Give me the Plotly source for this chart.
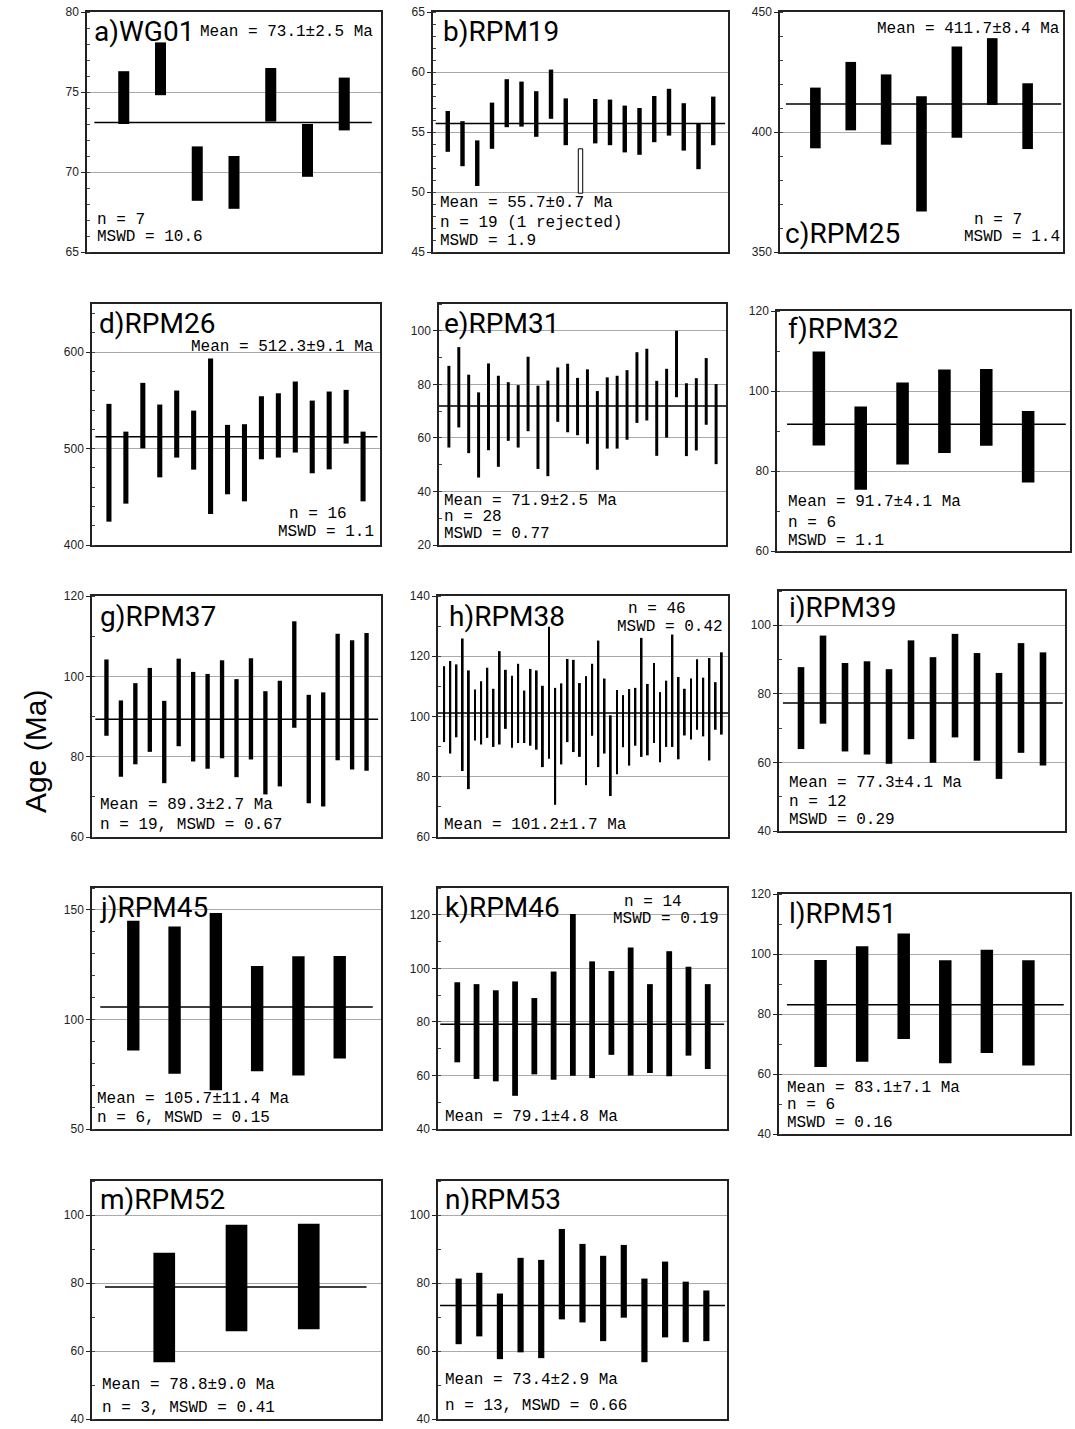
import plotly.graph_objects as go

W, H = 1075, 1429

# ---------------- data (Ma) ----------------
labels = ["a)WG01", "b)RPM19", "c)RPM25", "d)RPM26", "e)RPM31", "f)RPM32", "g)RPM37",
          "h)RPM38", "i)RPM39", "j)RPM45", "k)RPM46", "l)RPM51", "m)RPM52", "n)RPM53"]
means = [73.1, 55.7, 411.7, 512.3, 71.9, 91.7, 89.3, 101.2, 77.3, 105.7, 79.1, 83.1, 78.8, 73.4]

a_high = [76.3, 78.1, 71.6, 71.0, 76.5, 73.0, 75.9]
a_low = [73.0, 74.8, 68.2, 67.7, 73.15, 69.7, 72.6]

b_high = [56.75, 55.9, 54.3, 57.45, 59.4, 59.2, 58.4, 60.2, 57.8, 53.6, 57.75, 57.7, 57.2, 57.0,
          58.0, 58.6, 57.4, 55.7, 57.95]
b_low = [53.35, 52.15, 50.5, 53.6, 55.4, 55.45, 54.6, 56.1, 53.9, 49.9, 54.05, 53.9, 53.3, 53.1,
         54.15, 54.7, 53.45, 51.9, 53.9]
b_rejected = [10]  # 1-based analysis number rejected

c_high = [418.5, 429.2, 424.0, 414.9, 435.6, 439.1, 420.3]
c_low = [393.2, 400.7, 394.7, 366.9, 397.6, 411.3, 392.9]

d_high = [546.4, 517.6, 568.2, 545.7, 560.2, 539.4, 593.4, 524.6, 525.3, 554.3, 557.4, 569.6,
          549.8, 559.2, 560.9, 517.6]
d_low = [424.2, 442.9, 500.3, 470.2, 490.7, 478.2, 432.2, 452.6, 445.3, 488.9, 490.7, 495.9,
         474.4, 478.5, 505.2, 445.3]

e_high = [86.9, 93.9, 83.6, 77.0, 87.8, 83.2, 80.8, 79.7, 90.3, 79.5, 81.4, 86.3, 87.7, 82.4,
          85.6, 77.5, 82.6, 83.2, 85.3, 92.0, 93.3, 81.3, 85.8, 100.0, 80.4, 82.3, 89.8, 80.1]
e_low = [56.4, 63.9, 54.3, 45.2, 55.4, 49.2, 58.9, 56.4, 62.5, 48.4, 45.7, 66.0, 62.1, 61.0,
         57.8, 48.1, 56.0, 56.0, 59.3, 65.6, 66.5, 53.3, 60.1, 75.2, 53.2, 55.3, 64.9, 50.2]

f_high = [109.9, 96.1, 102.1, 105.4, 105.5, 95.0]
f_low = [86.4, 75.3, 81.6, 84.5, 86.3, 77.1]

g_high = [104.2, 94.0, 98.3, 102.1, 93.9, 104.4, 101.1, 100.6, 104.0, 99.3, 104.5, 96.3, 98.9,
          113.7, 95.4, 96.0, 110.6, 109.0, 110.8]
g_low = [85.2, 75.0, 78.1, 81.2, 73.4, 82.6, 78.8, 77.0, 79.6, 74.9, 79.3, 70.6, 72.6, 87.2,
         68.4, 67.6, 79.1, 76.8, 76.5]

h_high = [116.7, 118.4, 117.3, 125.9, 115.3, 109.0, 111.7, 116.2, 109.2, 121.7, 115.5, 113.5,
          117.5, 108.6, 115.8, 115.3, 110.2, 129.8, 109.5, 111.0, 119.1, 118.8, 111.1, 113.4,
          117.5, 125.2, 112.6, 100.4, 108.8, 107.1, 109.1, 109.5, 126.1, 110.8, 117.8, 108.1,
          111.9, 127.2, 113.1, 109.2, 112.6, 119.0, 112.9, 119.4, 111.4, 121.3]
h_low = [91.5, 87.7, 93.1, 81.9, 75.9, 92.0, 90.7, 92.9, 89.9, 90.7, 95.9, 89.6, 91.2, 91.2,
         90.3, 89.0, 83.2, 86.0, 70.7, 84.1, 91.5, 88.2, 86.6, 77.2, 93.6, 83.2, 87.7, 73.6,
         80.8, 89.8, 83.7, 90.3, 86.6, 87.1, 91.2, 84.8, 89.9, 89.9, 85.8, 93.7, 92.4, 95.6,
         93.4, 85.4, 95.6, 94.0]

i_high = [87.8, 97.0, 89.0, 89.5, 87.2, 95.6, 90.7, 97.5, 91.9, 86.1, 94.8, 92.1]
i_low = [63.9, 71.3, 63.2, 62.3, 59.6, 66.8, 59.9, 67.3, 60.5, 55.2, 62.8, 59.1]

j_high = [145.0, 142.4, 148.6, 124.4, 128.8, 129.0]
j_low = [85.8, 75.2, 67.7, 76.4, 74.4, 82.2]

k_high = [94.8, 94.1, 91.8, 95.1, 88.9, 98.8, 120.3, 102.6, 99.0, 107.8, 94.1, 106.4, 100.6, 94.1]
k_low = [64.9, 58.7, 57.8, 52.4, 60.4, 58.4, 59.9, 59.0, 67.7, 60.0, 60.9, 59.7, 67.4, 62.4]

l_high = [98.0, 102.6, 106.8, 97.9, 101.4, 97.9]
l_low = [62.3, 64.1, 71.7, 63.6, 67.0, 62.8]

m_high = [88.9, 97.1, 97.4]
m_low = [56.7, 65.8, 66.4]

n_high = [81.3, 83.0, 76.9, 87.4, 86.8, 95.9, 91.5, 88.0, 91.2, 81.3, 86.3, 80.4, 77.8]
n_low = [62.0, 64.3, 57.6, 59.6, 57.9, 69.3, 68.4, 62.9, 69.8, 56.7, 64.0, 62.6, 62.9]

highs = [a_high, b_high, c_high, d_high, e_high, f_high, g_high, h_high, i_high, j_high,
         k_high, l_high, m_high, n_high]
lows = [a_low, b_low, c_low, d_low, e_low, f_low, g_low, h_low, i_low, j_low, k_low, l_low,
        m_low, n_low]

# axis ranges / ticks
y_ranges = [(65, 80), (45, 65), (350, 450), (400, 650), (20, 110), (60, 120), (60, 120),
            (60, 140), (40, 110), (50, 160), (40, 130), (40, 120), (40, 110), (40, 110)]
major_dt = [5, 5, 50, 100, 20, 20, 20, 20, 20, 50, 20, 20, 20, 20]
minor_dt = [1, 1, 10, 20, 10, 10, 10, 10, 10, 10, 10, 10, 10, 10]

# statistic text
stat_texts = [
    ["Mean = 73.1±2.5 Ma", "n = 7", "MSWD = 10.6"],
    ["Mean = 55.7±0.7 Ma", "n = 19 (1 rejected)", "MSWD = 1.9"],
    ["Mean = 411.7±8.4 Ma", "n = 7", "MSWD = 1.4"],
    ["Mean = 512.3±9.1 Ma", "n = 16", "MSWD = 1.1"],
    ["Mean = 71.9±2.5 Ma", "n = 28", "MSWD = 0.77"],
    ["Mean = 91.7±4.1 Ma", "n = 6", "MSWD = 1.1"],
    ["Mean = 89.3±2.7 Ma", "n = 19, MSWD = 0.67"],
    ["n = 46", "MSWD = 0.42", "Mean = 101.2±1.7 Ma"],
    ["Mean = 77.3±4.1 Ma", "n = 12", "MSWD = 0.29"],
    ["Mean = 105.7±11.4 Ma", "n = 6, MSWD = 0.15"],
    ["n = 14", "MSWD = 0.19", "Mean = 79.1±4.8 Ma"],
    ["Mean = 83.1±7.1 Ma", "n = 6", "MSWD = 0.16"],
    ["Mean = 78.8±9.0 Ma", "n = 3, MSWD = 0.41"],
    ["Mean = 73.4±2.9 Ma", "n = 13, MSWD = 0.66"],
]

# ---------------- layout geometry (pixels) ----------------
boxes = [  # x0, x1, ytop, ybottom
    (87, 381, 12, 252), (433, 728, 12, 252), (780, 1063, 12, 252),
    (92, 380, 304, 545), (439, 726, 304, 545), (777, 1070, 311, 551),
    (92, 381, 596, 837), (438, 728, 596, 837), (779, 1065, 591, 831),
    (92, 381, 888, 1129), (438, 727, 888, 1129), (779, 1070, 894, 1134),
    (92, 381, 1181, 1419), (438, 727, 1181, 1419),
]
# label position (x, y)
label_pos = [(92, 31), (441, 32), (783, 233), (97, 323), (442, 323), (786, 328), (98, 616),
             (447, 616), (787, 608), (98, 907), (443, 907), (787, 913), (98, 1199), (443, 1199)]
# stat text positions: (x, y, anchor) per line
stat_pos = [
    [(375, 32, "right"), (95, 220, "left"), (95, 237, "left")],
    [(438, 203, "left"), (438, 223, "left"), (438, 241, "left")],
    [(1062, 29, "right"), (972, 220, "left"), (1062, 237, "right")],
    [(376, 347, "right"), (287, 514, "left"), (376, 532, "right")],
    [(442, 501, "left"), (442, 517, "left"), (442, 534, "left")],
    [(786, 502, "left"), (786, 523, "left"), (786, 541, "left")],
    [(98, 805, "left"), (98, 825, "left")],
    [(626, 609, "left"), (725, 627, "right"), (442, 825, "left")],
    [(787, 783, "left"), (787, 802, "left"), (787, 820, "left")],
    [(95, 1099, "left"), (95, 1118, "left")],
    [(622, 902, "left"), (721, 919, "right"), (443, 1117, "left")],
    [(785, 1088, "left"), (785, 1105, "left"), (785, 1123, "left")],
    [(100, 1385, "left"), (100, 1408, "left")],
    [(443, 1380, "left"), (443, 1406, "left")],
]
line_margin = [(0.2, 0.25), (0.18, 0.2), (0.17, 0.05), (0.2, 0.15), (0.0, 0.0), (0.24, 0.1),
               (0.23, 0.2), (0.0, 0.0), (0.18, 0.1), (0.2, 0.2), (0.12, 0.15), (0.19, 0.15),
               (0.18, 0.2), (0.1, 0.1)]

LABEL_FONT = dict(family="Roboto, Liberation Sans, sans-serif", size=28, color="#000")
STAT_FONT = dict(family="Liberation Mono, DejaVu Sans Mono, monospace", size=16, color="#000")
TICK_FONT = dict(family="Liberation Sans, Arial, sans-serif", size=12, color="#222")

fig = go.Figure()
layout = dict(width=W, height=H, margin=dict(l=0, r=0, t=0, b=0, autoexpand=False),
              paper_bgcolor="white", plot_bgcolor="white", showlegend=False,
              barmode="overlay", annotations=[])


def px(x, y):
    return x / W, 1 - y / H


for i in range(14):
    sfx = "" if i == 0 else str(i + 1)
    xa, ya = "x" + sfx, "y" + sfx
    n = len(highs[i])
    xmax = n + 1
    pos = list(range(1, n + 1))
    rej = b_rejected if i == 1 else []
    acc = [p for p in pos if p not in rej]
    fig.add_trace(go.Bar(
        x=acc, y=[highs[i][p - 1] - lows[i][p - 1] for p in acc],
        base=[lows[i][p - 1] for p in acc], width=0.3,
        marker=dict(color="black", line=dict(width=0)),
        xaxis=xa, yaxis=ya, hoverinfo="skip"))
    if rej:
        fig.add_trace(go.Bar(
            x=rej, y=[highs[i][p - 1] - lows[i][p - 1] for p in rej],
            base=[lows[i][p - 1] for p in rej], width=0.3,
            marker=dict(color="white", line=dict(width=1, color="black")),
            xaxis=xa, yaxis=ya, hoverinfo="skip"))
    m0, m1 = line_margin[i]
    fig.add_trace(go.Scatter(
        x=[m0, xmax - m1], y=[means[i], means[i]], mode="lines",
        line=dict(color="black", width=1.5), xaxis=xa, yaxis=ya, hoverinfo="skip"))

    x0, x1, yt, yb = boxes[i]
    layout["xaxis" + sfx] = dict(
        domain=[x0 / W, x1 / W], range=[0, xmax], anchor=ya, automargin=False,
        showticklabels=False, ticks="", showgrid=False, zeroline=False,
        showline=True, mirror=True, linecolor="#222", linewidth=1.5, fixedrange=True)
    layout["yaxis" + sfx] = dict(
        domain=[1 - yb / H, 1 - yt / H], range=list(y_ranges[i]), anchor=xa, automargin=False,
        tick0=0, dtick=major_dt[i], ticks="outside", ticklen=4, tickcolor="#222",
        tickfont=TICK_FONT, showgrid=True, gridcolor="#aaaaaa", gridwidth=1,
        ticklabeloverflow="allow",
        zeroline=False, showline=True, mirror=True, linecolor="#222", linewidth=1.5,
        minor=dict(dtick=minor_dt[i], tick0=0, ticks="inside", ticklen=3,
                   tickcolor="#444", showgrid=False),
        fixedrange=True)

    lx, ly = px(*label_pos[i])
    layout["annotations"].append(dict(
        text=labels[i], x=lx, y=ly, xref="paper", yref="paper",
        xanchor="left", yanchor="middle", showarrow=False, font=LABEL_FONT))
    for txt, (sx, sy, anc) in zip(stat_texts[i], stat_pos[i]):
        ax_, ay_ = px(sx, sy)
        layout["annotations"].append(dict(
            text=txt, x=ax_, y=ay_, xref="paper", yref="paper",
            xanchor=anc, yanchor="middle", showarrow=False, font=STAT_FONT))

tx, ty = px(35, 752)
layout["annotations"].append(dict(
    text="Age (Ma)", x=tx, y=ty, xref="paper", yref="paper", textangle=-90,
    xanchor="center", yanchor="middle", showarrow=False,
    font=dict(family="Liberation Sans, Arial, sans-serif", size=30, color="#000")))

fig.update_layout(**layout)
fig.write_html(
    "out.html",
    config={"displayModeBar": False},
    post_script="document.body.style.margin='0';document.body.style.overflow='hidden';",
)
